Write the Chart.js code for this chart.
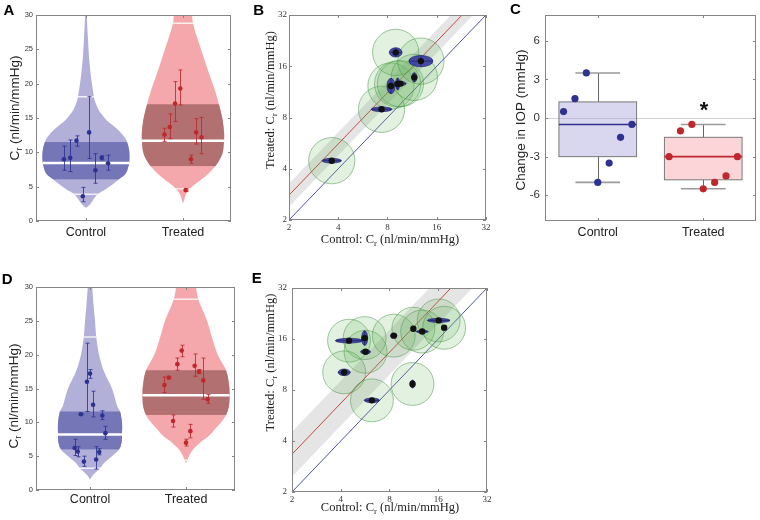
<!DOCTYPE html>
<html>
<head>
<meta charset="utf-8">
<script src="https://cdn.jsdelivr.net/npm/chart.js@4.4.0/dist/chart.umd.min.js"></script>
<style>
  body { margin: 0; background: #fff; }
  #fig { position: relative; width: 760px; height: 520px; }
  canvas { position: absolute; }
</style>
</head>
<body>
<div id="fig">
  <canvas id="chartA" width="245" height="250" style="left:0;top:0"></canvas>
  <canvas id="chartB" width="255" height="250" style="left:245px;top:0"></canvas>
  <canvas id="chartC" width="260" height="250" style="left:500px;top:0"></canvas>
  <canvas id="chartD" width="245" height="258" style="left:0;top:262px"></canvas>
  <canvas id="chartE" width="255" height="258" style="left:245px;top:262px"></canvas>
</div>
<script>
const groups = ['Control', 'Treated'];

// ---- A: outflow facility per eye, first cohort ----
const aCtrl    = [9.0, 9.2, 11.7, 3.6, 12.9, 7.4, 9.2, 8.4];
const aCtrlLo  = [7.4, 7.2, 10.9, 2.8, 9.1, 5.5, 8.9, 7.4];
const aCtrlHi  = [10.9, 11.8, 12.4, 4.9, 18.1, 9.8, 9.5, 9.6];
const aTreat   = [12.6, 13.7, 17.1, 19.3, 4.5, 9.0, 12.9, 12.2];
const aTreatLo = [11.6, 12.0, 14.5, 16.9, 4.3, 8.4, 11.2, 9.8];
const aTreatHi = [13.5, 15.6, 20.3, 22.0, 4.7, 9.6, 14.9, 15.1];

// violin outlines: levels and half widths (category units)
const aCtrlLevels  = [1.9, 2.4, 3.0, 3.9, 4.6, 5.4, 6.2, 6.9, 8.5, 10.3, 11.8, 12.6, 13.3, 14.0, 14.7, 15.5, 16.2, 17.6, 19.0, 21.0, 24.0, 27.0, 30.0];
const aCtrlHalfW   = [0, 0.04, 0.07, 0.12, 0.2, 0.28, 0.35, 0.41, 0.445, 0.445, 0.415, 0.375, 0.33, 0.27, 0.21, 0.165, 0.13, 0.09, 0.072, 0.052, 0.031, 0.019, 0.008];
const aTreatLevels = [2.5, 3.2, 4.0, 5.0, 6.0, 7.0, 8.0, 9.0, 10.0, 11.7, 13.0, 15.0, 17.0, 19.0, 21.0, 23.0, 25.0, 27.0, 28.8, 30.0, 31.0];
const aTreatHalfW  = [0, 0.015, 0.036, 0.093, 0.186, 0.268, 0.335, 0.38, 0.41, 0.423, 0.423, 0.405, 0.37, 0.33, 0.28, 0.232, 0.186, 0.139, 0.103, 0.093, 0.082];
const aBandLo  = [6.07, 8.0];
const aBandHi  = [11.5, 17.0];
const aMedian  = [8.45, 11.7];
const aTailLo  = [3.9, 4.7];
const aTailHi  = [18.1, 28.8];

// ---- B: paired facility, first cohort ----
const bCtrl    = [3.65, 7.36, 8.40, 9.23, 9.60, 8.98, 11.67, 12.8];
const bTreat   = [4.46, 8.94, 12.25, 12.59, 12.65, 19.3, 13.77, 17.15];
const bCtrlSd  = [0.196, 0.21, 0.081, 0.041, 0.115, 0.129, 0.047, 0.244];   // log2 units
const bTreatSd = [0.046, 0.046, 0.15, 0.117, 0.04, 0.091, 0.091, 0.11];
const bFitShift = 0.485, bFitBand = 0.225, bNoise = 0.47;

// ---- C: change in IOP ----
const cCtrl  = [0.5, 1.5, 3.5, -5, -3.5, -1.5, -0.5];
const cTreat = [-3, -1, -0.5, -5.5, -5, -4.5, -3];
const boxLo  = [-5, -5.5];
const boxQ1  = [-3, -4.8];
const boxMed = [-0.5, -3];
const boxQ3  = [1.25, -1.5];
const boxHi  = [3.5, -0.5];

// ---- D: outflow facility per eye, second cohort ----
const dCtrl    = [6.2, 5.7, 11.2, 4.2, 16.0, 17.2, 12.6, 4.5, 5.6, 11.0, 8.4];
const dCtrlLo  = [5.1, 4.9, 11.1, 3.5, 11.6, 16.5, 10.8, 3.1, 5.2, 10.4, 7.5];
const dCtrlHi  = [7.5, 6.4, 11.3, 5.0, 21.7, 17.8, 14.6, 6.4, 6.1, 11.7, 9.4];
const dTreat   = [15.5, 16.6, 10.2, 18.6, 20.6, 7.0, 8.7, 18.35, 17.5, 16.2, 13.4];
const dTreatLo = [14.4, 16.5, 9.3, 17.7, 19.7, 6.5, 7.7, 16.8, 17.2, 13.4, 12.8];
const dTreatHi = [16.7, 16.7, 11.1, 19.5, 21.4, 7.5, 9.7, 20.1, 17.8, 19.5, 14.1];

const dCtrlLevels  = [1.5, 2.2, 3.2, 4.0, 5.0, 6.0, 7.0, 8.2, 10.0, 11.6, 12.5, 15.0, 17.5, 20.0, 22.6, 25.0, 27.5, 30.0];
const dCtrlHalfW   = [0, 0.031, 0.104, 0.146, 0.229, 0.302, 0.328, 0.333, 0.333, 0.313, 0.281, 0.229, 0.146, 0.094, 0.065, 0.052, 0.036, 0.023];
const dTreatLevels = [3.9, 5.0, 6.0, 7.0, 8.0, 9.0, 10.0, 11.1, 12.5, 14.0, 15.5, 17.7, 20.0, 22.5, 25.0, 27.0, 28.2, 29.2, 30.0, 30.8];
const dTreatHalfW  = [0, 0.031, 0.073, 0.146, 0.24, 0.302, 0.365, 0.417, 0.448, 0.453, 0.448, 0.417, 0.33, 0.271, 0.219, 0.16, 0.128, 0.112, 0.104, 0.098];
const dBandLo  = [6.0, 11.1];
const dBandHi  = [11.6, 17.7];
const dMedian  = [8.2, 14.0];
const dTailLo  = [3.2, 4.4];
const dTailHi  = [22.6, 28.2];

// ---- E: paired facility, second cohort ----
const eCtrl    = [4.5, 5.62, 5.69, 4.2, 6.23, 8.5, 11.23, 12.73, 16.1, 17.4, 11.1];
const eTreat   = [15.64, 16.2, 13.45, 10.17, 6.95, 16.74, 18.4, 17.7, 20.6, 18.64, 8.68];
const eCtrlSd  = [0.28, 0.062, 0.10, 0.123, 0.157, 0.068, 0.041, 0.123, 0.232, 0.034, 0.048];
const eTreatSd = [0.046, 0.144, 0.04, 0.065, 0.046, 0.04, 0.046, 0.026, 0.04, 0.033, 0.078];
const eFitShift = 0.74, eFitBand = 0.44, eNoise = 0.44;

// ---- styling ----
const SANS = '"Liberation Sans", Arial, Helvetica, sans-serif';
const SERIF = '"Liberation Serif", "Times New Roman", serif';
const FRAME = '#858585';
const INK = '#222';
const BLUE = '#2d3290', RED = '#c0272d';

function fixSize(px) {
  return s => { if (s.isHorizontal()) s.height = px; else s.width = px; };
}
function setTicks(values) {
  return s => { s.ticks = values.map(v => ({value: v})); };
}
function jitter(pos, n, step, i) {
  return pos + (i - (n - 1) / 2) * step;
}
function clipArea(ctx, a) {
  ctx.beginPath();
  ctx.rect(a.left, a.top, a.right - a.left, a.bottom - a.top);
  ctx.clip();
}

// box with inward ticks, matlab style
const framePlugin = {
  id: 'frame',
  afterDatasetsDraw(chart) {
    const {ctx, chartArea: a, scales} = chart;
    const len = 3;
    ctx.save();
    ctx.strokeStyle = FRAME;
    ctx.lineWidth = 1;
    ctx.beginPath();
    scales.x.ticks.forEach(t => {
      const p = Math.round(scales.x.getPixelForValue(t.value)) + 0.5;
      ctx.moveTo(p, a.bottom); ctx.lineTo(p, a.bottom - len);
      ctx.moveTo(p, a.top); ctx.lineTo(p, a.top + len);
    });
    scales.y.ticks.forEach(t => {
      const p = Math.round(scales.y.getPixelForValue(t.value)) + 0.5;
      ctx.moveTo(a.left, p); ctx.lineTo(a.left + len, p);
      ctx.moveTo(a.right, p); ctx.lineTo(a.right - len, p);
    });
    ctx.stroke();
    ctx.strokeRect(a.left + 0.5, a.top + 0.5, a.right - a.left - 1, a.bottom - a.top - 1);
    ctx.restore();
  }
};

function drawRich(ctx, item) {
  const size = item.size, fam = item.family || SANS, w = item.weight || 'normal';
  ctx.save();
  ctx.translate(item.x, item.y);
  ctx.rotate(item.rot || 0);
  ctx.fillStyle = item.color || INK;
  ctx.textBaseline = 'middle';
  ctx.textAlign = 'left';
  const fontOf = p => `${w} ${p.sub ? size * 0.7 : size}px ${fam}`;
  let total = 0;
  item.parts.forEach(p => { ctx.font = fontOf(p); total += ctx.measureText(p.t).width; });
  let cx = -total / 2;
  item.parts.forEach(p => {
    ctx.font = fontOf(p);
    ctx.fillText(p.t, cx, p.sub ? size * 0.3 : 0);
    cx += ctx.measureText(p.t).width;
  });
  ctx.restore();
}

// texts given in page coordinates, shifted into the canvas
function labelsPlugin(ox, oy, items) {
  return {
    id: 'labels',
    afterDraw(chart) {
      items.forEach(it => drawRich(chart.ctx, Object.assign({}, it, {x: it.x - ox, y: it.y - oy})));
    }
  };
}

function sidePoints(v, sign, xs, ys) {
  return v.levels.map((lv, i) => [xs.getPixelForValue(v.pos + sign * v.halfW[i]), ys.getPixelForValue(lv)]);
}
function splineThrough(ctx, pts, first) {
  if (first) ctx.moveTo(pts[0][0], pts[0][1]); else ctx.lineTo(pts[0][0], pts[0][1]);
  for (let i = 0; i < pts.length - 1; i++) {
    const p0 = pts[Math.max(i - 1, 0)], p1 = pts[i], p2 = pts[i + 1], p3 = pts[Math.min(i + 2, pts.length - 1)];
    ctx.bezierCurveTo(p1[0] + (p2[0] - p0[0]) / 6, p1[1] + (p2[1] - p0[1]) / 6,
                      p2[0] - (p3[0] - p1[0]) / 6, p2[1] - (p3[1] - p1[1]) / 6, p2[0], p2[1]);
  }
}
function violinPath(ctx, v, xs, ys) {
  ctx.beginPath();
  splineThrough(ctx, sidePoints(v, 1, xs, ys), true);
  splineThrough(ctx, sidePoints(v, -1, xs, ys).reverse(), false);
  ctx.closePath();
}

function violinPlugin(violins) {
  return {
    id: 'violins',
    beforeDatasetsDraw(chart) {
      const {ctx, chartArea: a, scales: {x, y}} = chart;
      ctx.save();
      clipArea(ctx, a);
      violins.forEach(v => {
        violinPath(ctx, v, x, y);
        ctx.fillStyle = v.light;
        ctx.fill();
        ctx.save();
        ctx.clip();
        const yl = y.getPixelForValue(v.band[0]), yh = y.getPixelForValue(v.band[1]);
        ctx.fillStyle = v.dark;
        ctx.fillRect(a.left, yh, a.right - a.left, yl - yh);
        ctx.strokeStyle = 'rgba(255,255,255,0.8)';
        ctx.lineWidth = 1.5;
        v.tails.forEach(t => {
          const p = y.getPixelForValue(t);
          ctx.beginPath(); ctx.moveTo(a.left, p); ctx.lineTo(a.right, p); ctx.stroke();
        });
        ctx.strokeStyle = '#fff';
        ctx.lineWidth = 2.5;
        const pm = y.getPixelForValue(v.median);
        ctx.beginPath(); ctx.moveTo(a.left, pm); ctx.lineTo(a.right, pm); ctx.stroke();
        ctx.restore();
      });
      // error bars
      violins.forEach(v => {
        ctx.strokeStyle = v.ink;
        ctx.globalAlpha = 0.85;
        ctx.lineWidth = 1;
        ctx.beginPath();
        v.vals.forEach((val, i) => {
          const px = Math.round(x.getPixelForValue(jitter(v.pos, v.vals.length, v.step, i))) + 0.5;
          const lo = y.getPixelForValue(v.lo[i]), hi = y.getPixelForValue(v.hi[i]);
          ctx.moveTo(px, lo); ctx.lineTo(px, hi);
          ctx.moveTo(px - 2, lo); ctx.lineTo(px + 2, lo);
          ctx.moveTo(px - 2, hi); ctx.lineTo(px + 2, hi);
        });
        ctx.stroke();
      });
      ctx.restore();
    }
  };
}

function linearAxis(min, max, ticks, size, font, pad, extra) {
  return Object.assign({
    type: 'linear', min: min, max: max,
    afterBuildTicks: setTicks(ticks),
    afterFit: fixSize(size),
    grid: {display: false, drawTicks: false},
    border: {display: false},
    ticks: {font: font, color: '#333', padding: pad, maxRotation: 0, minRotation: 0, autoSkip: false}
  }, extra || {});
}

function baseOptions(padTop, padRight, x, y) {
  return {
    responsive: false, maintainAspectRatio: false, animation: false,
    layout: {padding: {top: padTop, right: padRight, left: 0, bottom: 0}},
    plugins: {legend: {display: false}, tooltip: {enabled: false}},
    scales: {x: x, y: y}
  };
}

function facilityTitle(x, y) {
  return {parts: [{t: 'C'}, {t: 'r', sub: true}, {t: ' (nl/min/mmHg)'}], x: x, y: y, rot: -Math.PI / 2, size: 13.5};
}
function letter(t, x, y) {
  return {parts: [{t: t}], x: x, y: y, size: 15, weight: 'bold', color: '#000'};
}

function violinPanel(id, ox, oy, geom, violins, texts) {
  const groupTick = v => groups[Math.round(v) - 1];
  new Chart(document.getElementById(id), {
    type: 'scatter',
    data: {
      datasets: violins.map(v => ({
        data: v.vals.map((val, i) => ({x: jitter(v.pos, v.vals.length, v.step, i), y: val})),
        pointRadius: 2.3, pointBackgroundColor: v.ink, pointBorderWidth: 0
      }))
    },
    options: baseOptions(geom.top, geom.right,
      linearAxis(geom.xmin, geom.xmax, [1, 2], geom.xh, {family: SANS, size: 12.5}, geom.xpad,
        {ticks: {callback: groupTick, font: {family: SANS, size: 12.5}, color: INK, padding: geom.xpad, maxRotation: 0, autoSkip: false}}),
      linearAxis(0, 30, [0, 5, 10, 15, 20, 25, 30], geom.yw, {family: SANS, size: 7.5}, 3)),
    plugins: [violinPlugin(violins), framePlugin, labelsPlugin(ox, oy, texts)]
  });
}

const CTRL_COL = {light: 'rgb(178,176,216)', dark: 'rgb(117,118,184)', ink: BLUE};
const TREAT_COL = {light: 'rgb(244,168,171)', dark: 'rgb(178,113,112)', ink: RED};

violinPanel('chartA', 0, 0, {top: 15, right: 14, xh: 29, yw: 36, xmin: 0.485, xmax: 2.495, xpad: 4}, [
  Object.assign({pos: 1, step: 0.065, vals: aCtrl, lo: aCtrlLo, hi: aCtrlHi, levels: aCtrlLevels, halfW: aCtrlHalfW,
    band: [aBandLo[0], aBandHi[0]], median: aMedian[0], tails: [aTailLo[0], aTailHi[0]]}, CTRL_COL),
  Object.assign({pos: 2, step: 0.0545, vals: aTreat, lo: aTreatLo, hi: aTreatHi, levels: aTreatLevels, halfW: aTreatHalfW,
    band: [aBandLo[1], aBandHi[1]], median: aMedian[1], tails: [aTailLo[1], aTailHi[1]]}, TREAT_COL)
], [letter('A', 9, 10.5), facilityTitle(15, 108)]);

violinPanel('chartD', 0, 262, {top: 25, right: 10, xh: 30, yw: 36, xmin: 0.4375, xmax: 2.51, xpad: 2}, [
  Object.assign({pos: 1, step: 0.032, vals: dCtrl, lo: dCtrlLo, hi: dCtrlHi, levels: dCtrlLevels, halfW: dCtrlHalfW,
    band: [dBandLo[0], dBandHi[0]], median: dMedian[0], tails: [dTailLo[0], dTailHi[0]]}, CTRL_COL),
  Object.assign({pos: 2, step: 0.045, vals: dTreat, lo: dTreatLo, hi: dTreatHi, levels: dTreatLevels, halfW: dTreatHalfW,
    band: [dBandLo[1], dBandHi[1]], median: dMedian[1], tails: [dTailLo[1], dTailHi[1]]}, TREAT_COL)
], [letter('D', 7.2, 280), facilityTitle(14, 396)]);

// ---- paired scatter panels ----
function pairPlugin(p) {
  return {
    id: 'pairs',
    beforeDatasetsDraw(chart) {
      const {ctx, chartArea: a, scales: {x, y}} = chart;
      const P = (u, v) => [x.getPixelForValue(u), y.getPixelForValue(v)];
      ctx.save();
      clipArea(ctx, a);
      // uncertainty band around the fitted ratio
      const k1 = Math.pow(2, p.shift - p.band), k2 = Math.pow(2, p.shift + p.band);
      const pts = [P(1, k1), P(64, 64 * k1), P(64, 64 * k2), P(1, k2)];
      ctx.beginPath();
      pts.forEach((q, i) => i ? ctx.lineTo(q[0], q[1]) : ctx.moveTo(q[0], q[1]));
      ctx.closePath();
      ctx.fillStyle = 'rgba(160,160,160,0.28)';
      ctx.fill();
      // identity and fitted lines
      [[1, '#3b3f9c'], [Math.pow(2, p.shift), '#c0392b']].forEach(([k, col]) => {
        const s = P(1, k), e = P(64, 64 * k);
        ctx.beginPath(); ctx.moveTo(s[0], s[1]); ctx.lineTo(e[0], e[1]);
        ctx.strokeStyle = col; ctx.lineWidth = 0.9; ctx.stroke();
      });
      // noise circles
      p.cx.forEach((cx, i) => {
        const c = P(cx, p.cy[i]);
        const r = x.getPixelForValue(cx * Math.pow(2, p.noise)) - c[0];
        ctx.beginPath(); ctx.arc(c[0], c[1], r, 0, Math.PI * 2);
        ctx.fillStyle = 'rgba(100,180,90,0.18)'; ctx.fill();
        ctx.strokeStyle = 'rgba(70,150,70,0.65)'; ctx.lineWidth = 0.8; ctx.stroke();
      });
      // per-eye ellipses
      p.cx.forEach((cx, i) => {
        const c = P(cx, p.cy[i]);
        const rx = x.getPixelForValue(cx * Math.pow(2, p.sx[i])) - c[0];
        const ry = c[1] - y.getPixelForValue(p.cy[i] * Math.pow(2, p.sy[i]));
        ctx.beginPath(); ctx.ellipse(c[0], c[1], rx, ry, 0, 0, Math.PI * 2);
        ctx.fillStyle = 'rgba(58,62,165,0.92)'; ctx.fill();
        ctx.strokeStyle = 'rgba(25,25,100,0.9)'; ctx.lineWidth = 0.7; ctx.stroke();
        ctx.beginPath();
        ctx.moveTo(c[0] - rx, c[1]); ctx.lineTo(c[0] + rx, c[1]);
        ctx.moveTo(c[0], c[1] - ry); ctx.lineTo(c[0], c[1] + ry);
        ctx.strokeStyle = 'rgba(20,20,80,0.8)'; ctx.lineWidth = 0.7; ctx.stroke();
      });
      ctx.restore();
    }
  };
}

function logAxis(size, pad) {
  return {
    type: 'logarithmic', min: 2, max: 32,
    afterBuildTicks: setTicks([2, 4, 8, 16, 32]),
    afterFit: fixSize(size),
    grid: {display: false, drawTicks: false},
    border: {display: false},
    ticks: {callback: v => String(v), font: {family: SERIF, size: 9}, color: '#333', padding: pad, maxRotation: 0, autoSkip: false}
  };
}

function pairPanel(id, ox, oy, geom, p, texts) {
  new Chart(document.getElementById(id), {
    type: 'scatter',
    data: {datasets: [{
      data: p.cx.map((v, i) => ({x: v, y: p.cy[i]})),
      pointRadius: 3.2, pointBackgroundColor: '#111', pointBorderWidth: 0
    }]},
    options: baseOptions(geom.top, geom.right, logAxis(geom.xh, 2), logAxis(geom.yw, geom.ypad)),
    plugins: [pairPlugin(p), framePlugin, labelsPlugin(ox, oy, texts)]
  });
}

function pairTitles(xc, yc, yx, yy) {
  return [
    {parts: [{t: 'Control: C'}, {t: 'r', sub: true}, {t: ' (nl/min/mmHg)'}], x: xc, y: yc, size: 12.5, family: SERIF},
    {parts: [{t: 'Treated: C'}, {t: 'r', sub: true}, {t: ' (nl/min/mmHg)'}], x: yx, y: yy, rot: -Math.PI / 2, size: 12.5, family: SERIF}
  ];
}

pairPanel('chartB', 245, 0, {top: 15, right: 14, xh: 30, yw: 44, ypad: 2},
  {cx: bCtrl, cy: bTreat, sx: bCtrlSd, sy: bTreatSd, shift: bFitShift, band: bFitBand, noise: bNoise},
  [letter('B', 258.7, 10.5)].concat(pairTitles(390, 240, 271, 100)));

pairPanel('chartE', 245, 262, {top: 26, right: 13, xh: 28, yw: 47, ypad: 5},
  {cx: eCtrl, cy: eTreat, sx: eCtrlSd, sy: eTreatSd, shift: eFitShift, band: eFitBand, noise: eNoise},
  [letter('E', 256.7, 279.3)].concat(pairTitles(390, 508, 271, 362.5)));

// ---- C: box plot ----
const boxPlugin = {
  id: 'boxes',
  beforeDatasetsDraw(chart) {
    const {ctx, chartArea: a, scales: {x, y}} = chart;
    const fills = ['rgba(168,166,220,0.45)', 'rgba(245,150,155,0.4)'];
    const inks = [BLUE, RED];
    ctx.save();
    clipArea(ctx, a);
    const z = Math.round(y.getPixelForValue(0)) + 0.5;
    ctx.strokeStyle = '#cfcfcf'; ctx.lineWidth = 1;
    ctx.beginPath(); ctx.moveTo(a.left, z); ctx.lineTo(a.right, z); ctx.stroke();
    groups.forEach((g, i) => {
      const pos = i + 1;
      const xl = x.getPixelForValue(pos - 0.368), xr = x.getPixelForValue(pos + 0.368);
      const xc = Math.round(x.getPixelForValue(pos)) + 0.5;
      const cl = x.getPixelForValue(pos - 0.212), cr = x.getPixelForValue(pos + 0.212);
      const q1 = y.getPixelForValue(boxQ1[i]), q3 = y.getPixelForValue(boxQ3[i]);
      const lo = y.getPixelForValue(boxLo[i]), hi = y.getPixelForValue(boxHi[i]);
      // whiskers
      ctx.strokeStyle = '#666'; ctx.lineWidth = 1;
      ctx.beginPath();
      ctx.moveTo(xc, q3); ctx.lineTo(xc, hi);
      ctx.moveTo(xc, q1); ctx.lineTo(xc, lo);
      ctx.stroke();
      ctx.strokeStyle = '#9a9a9a'; ctx.lineWidth = 1.6;
      ctx.beginPath();
      ctx.moveTo(cl, hi); ctx.lineTo(cr, hi);
      ctx.moveTo(cl, lo); ctx.lineTo(cr, lo);
      ctx.stroke();
      // box
      ctx.fillStyle = fills[i];
      ctx.fillRect(xl, q3, xr - xl, q1 - q3);
      ctx.strokeStyle = '#7a7a7a'; ctx.lineWidth = 1;
      ctx.strokeRect(xl, q3, xr - xl, q1 - q3);
      // median
      const m = y.getPixelForValue(boxMed[i]);
      ctx.strokeStyle = inks[i]; ctx.lineWidth = 1.6;
      ctx.beginPath(); ctx.moveTo(xl, m); ctx.lineTo(xr, m); ctx.stroke();
    });
    ctx.restore();
  }
};

new Chart(document.getElementById('chartC'), {
  type: 'scatter',
  data: {datasets: [
    {data: cCtrl.map((v, i) => ({x: jitter(1, cCtrl.length, 0.108, i), y: v})), pointRadius: 3.6, pointBackgroundColor: BLUE, pointBorderWidth: 0},
    {data: cTreat.map((v, i) => ({x: jitter(2, cTreat.length, 0.108, i), y: v})), pointRadius: 3.6, pointBackgroundColor: RED, pointBorderWidth: 0}
  ]},
  options: baseOptions(15, 3,
    linearAxis(0.5, 2.5, [1, 2], 29, {family: SANS, size: 12.5}, 4,
      {ticks: {callback: v => groups[Math.round(v) - 1], font: {family: SANS, size: 12.5}, color: INK, padding: 4, maxRotation: 0, autoSkip: false}}),
    linearAxis(-8, 8, [-6, -3, 0, 3, 6], 45, {family: SANS, size: 11.5}, 5)),
  plugins: [boxPlugin, framePlugin, labelsPlugin(500, 0, [
    letter('C', 515.3, 10),
    {parts: [{t: 'Change in IOP (mmHg)'}], x: 521, y: 120, rot: -Math.PI / 2, size: 13.5},
    {parts: [{t: '*'}], x: 704, y: 111, size: 22, weight: 'bold', color: '#111'}
  ])]
});
</script>
</body>
</html>
